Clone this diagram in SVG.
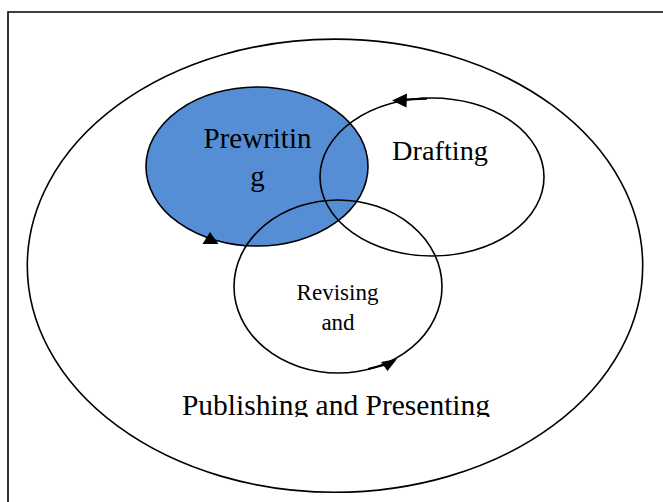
<svg xmlns="http://www.w3.org/2000/svg" width="663" height="502" viewBox="0 0 663 502">
<style>
.ln{fill:none;stroke:#000;stroke-width:1.6}
.t{font-family:"Liberation Serif","Times New Roman",serif;fill:#000;text-anchor:middle}
.ah{fill:#000;stroke:none}
</style>
<defs>
<clipPath id="pubclip"><rect x="150" y="380" width="380" height="37"/></clipPath>
</defs>
<rect width="663" height="502" fill="#fff"/>
<path class="ln" d="M8,502 V12 H663"/>
<g id="publishing">
<ellipse class="ln" cx="335" cy="265.7" rx="307.7" ry="226.6"/>
<text class="t" x="336" y="415" font-size="29.5" clip-path="url(#pubclip)">Publishing and Presenting</text>
</g>
<g id="prewriting">
<ellipse cx="257" cy="166.5" rx="111" ry="79.5" fill="#558ED5" stroke="#000" stroke-width="1.6"/>
<text class="t" x="257.5" y="148" font-size="29">Prewritin</text>
<text class="t" x="257.5" y="186" font-size="29">g</text>
</g>
<g id="drafting">
<ellipse class="ln" cx="432" cy="177" rx="112" ry="79"/>
<text class="t" x="440" y="160" font-size="28.3">Drafting</text>
</g>
<g id="revising">
<ellipse class="ln" cx="338" cy="286.5" rx="104" ry="86.5"/>
<text class="t" x="337.5" y="300" font-size="23">Revising</text>
<text class="t" x="338" y="330" font-size="23">and</text>
</g>
<g id="connectors">
<polygon class="ah" points="210,232 202.5,244 218.5,244"/>
<polygon class="ah" points="392,100.5 407,93.5 406.5,107.5"/>
<path d="M405,99.5 L427,98.6" stroke="#000" stroke-width="2.2" fill="none"/>
<polygon class="ah" points="397,359 381,362 387.5,371"/>
<path d="M368,369 L384,365" stroke="#000" stroke-width="2.2" fill="none"/>
</g>
</svg>
